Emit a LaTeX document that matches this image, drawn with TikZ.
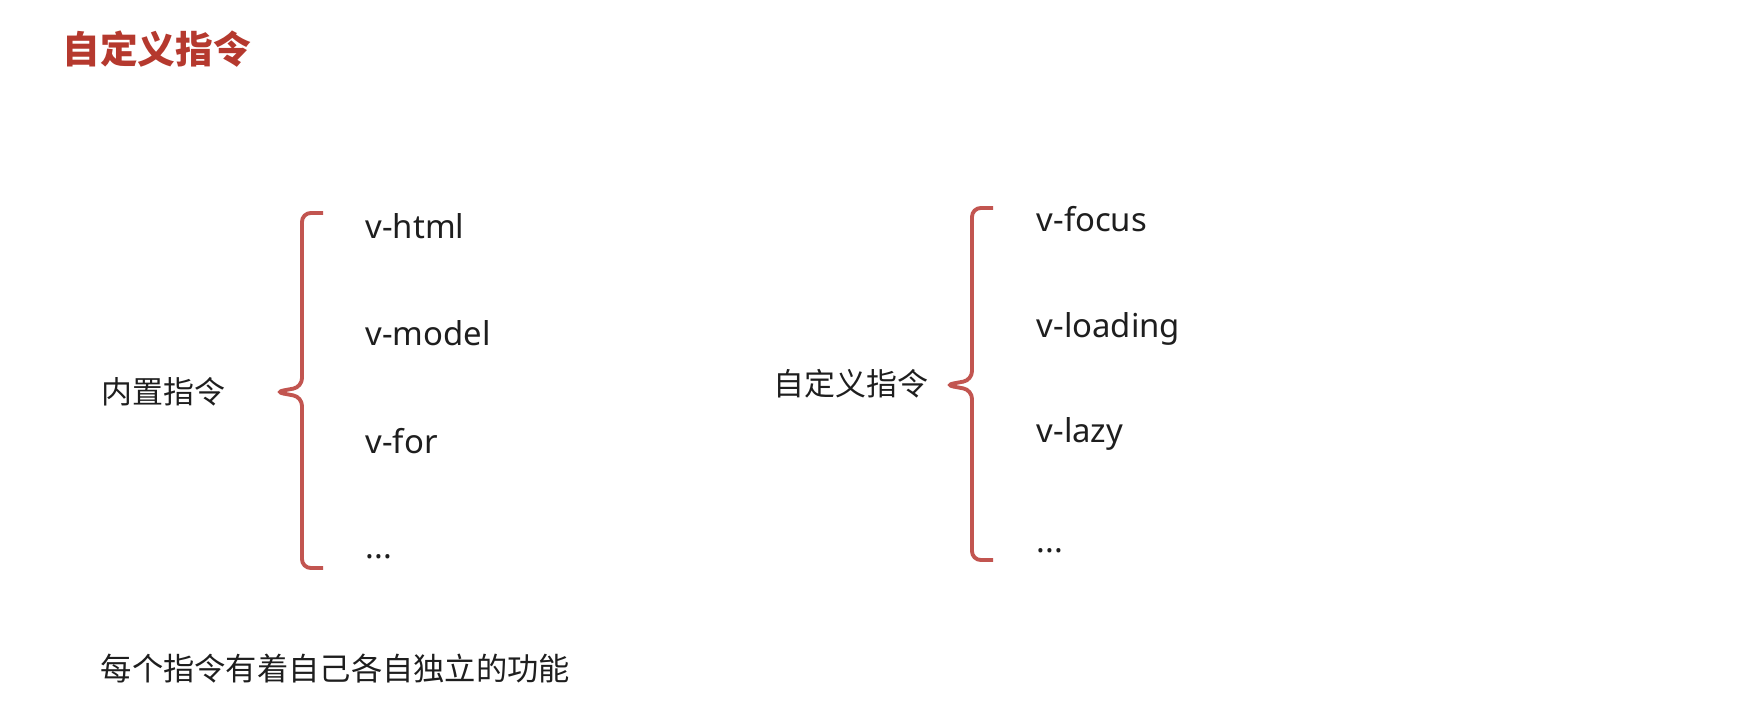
\documentclass[tikz,border=0pt]{standalone}
\usepackage{fontspec}
\setmainfont{Noto Sans}
\newfontfamily\cjk{Noto Sans CJK SC}
\definecolor{titlered}{HTML}{B5392E}
\definecolor{bracered}{HTML}{C25550}
\definecolor{textdark}{HTML}{1E1E1E}
\tikzset{
  dirname/.style={anchor=base west, inner sep=0pt, text=textdark, font=\fontsize{9.35}{11}\selectfont},
  grouptext/.style={anchor=base west, inner sep=0pt, text=textdark, font=\cjk\fontsize{8.8}{10}\selectfont},
  bracket/.style={draw=bracered, line width=1.1pt, rounded corners=2.5pt}
}

\begin{document}
\begin{tikzpicture}[x=0.01cm, y=-0.01cm]
		\useasboundingbox (0, 0) rectangle (1757, 724);

		\node[anchor=base west, inner sep=0pt, text=titlered, font=\cjk\bfseries\fontsize{10.7}{12}\selectfont] (title) at (62, 63) {自定义指令};

		% built-in directives
		\node[grouptext] (builtin) at (101, 403) {内置指令};
		\coordinate (btop) at (323, 213);
		\coordinate (btip) at (275, 392);
		\coordinate (bbot) at (323, 568);
		\draw[bracket] (btop) -- (302, 213) -- (302, 387) -- (btip) -- (302, 397) -- (302, 568) -- (bbot);

		\node[dirname] (vhtml) at (365, 238) {v-html};
		\node[dirname] (vmodel) at (365, 345) {v-model};
		\node[dirname] (vfor) at (365, 453) {v-for};
		\node[dirname] (bmore) at (365, 558) {...};

		% custom directives
		\node[grouptext] (custom) at (773, 395) {自定义指令};
		\coordinate (ctop) at (993, 208);
		\coordinate (ctip) at (945, 385);
		\coordinate (cbot) at (993, 560);
		\draw[bracket] (ctop) -- (972, 208) -- (972, 380) -- (ctip) -- (972, 390) -- (972, 560) -- (cbot);

		\node[dirname] (vfocus) at (1036, 231) {v-focus};
		\node[dirname] (vloading) at (1036, 337) {v-loading};
		\node[dirname] (vlazy) at (1036, 442) {v-lazy};
		\node[dirname] (cmore) at (1036, 552) {...};

		\node[grouptext, font=\cjk\fontsize{8.9}{10}\selectfont] (note) at (100, 680) {每个指令有着自己各自独立的功能};
	\end{tikzpicture}
\end{document}
